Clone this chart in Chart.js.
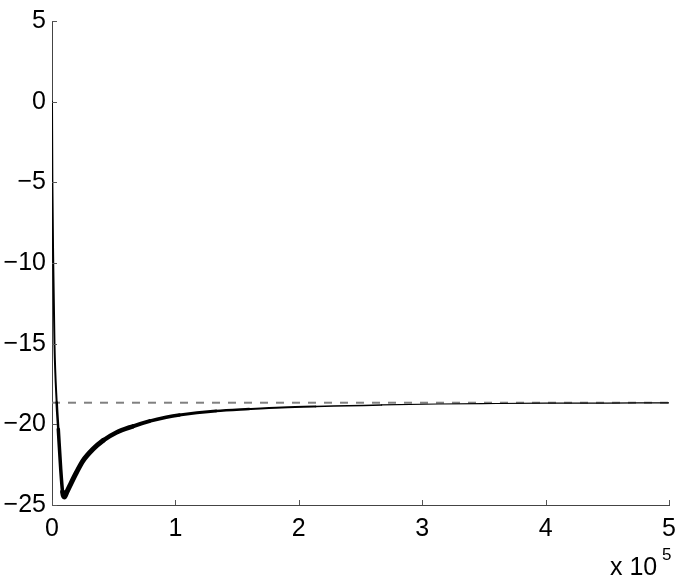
<!DOCTYPE html>
<html>
<head>
<meta charset="utf-8">
<script src="https://cdn.jsdelivr.net/npm/chart.js@4.4.0/dist/chart.umd.min.js"></script>
<style>
  html, body { margin: 0; padding: 0; background: #fff; }
  #wrap { width: 685px; height: 577px; }
</style>
</head>
<body>
<div id="wrap"><canvas id="chart" width="685" height="577"></canvas></div>
<script>
// curve (x in raw units, axis shows x 10^5)
const xValues = [0, 300, 1000, 2000, 3800, 5100, 7000, 8600, 10000, 12000, 14500, 19900, 25200, 33300,
    41400, 52200, 65600, 79000, 92500, 103200, 132800, 159700, 186300, 213500, 240300, 267000,
    313000, 360000, 400000, 450000, 500000];
const yValues = [0, -5, -10, -15, -18.65, -20.3, -22.7, -24.2, -24.5, -24.2, -23.8, -22.97, -22.25, -21.53,
    -21.0, -20.5, -20.12, -19.8, -19.56, -19.42, -19.17, -19.05, -18.95, -18.89, -18.85, -18.8,
    -18.74, -18.71, -18.69, -18.68, -18.67];
const asymptote = -18.66;
const xTicks = [0, 100000, 200000, 300000, 400000, 500000];
const yTicks = [5, 0, -5, -10, -15, -20, -25];

const fontFamily = '"Liberation Sans", Arial, Helvetica, sans-serif';
const minus = s => String(s).replace('-', '\u2212');

// width of the curve grows where the original trace is dense
const widthSteps = [[3000, 2], [6000, 2.5], [9000, 3.5], [45000, 5], [60000, 4.5], [80000, 4],
    [100000, 3.5], [130000, 3], [170000, 2.5], [220000, 2], [280000, 1.5]];
function segWidth(ctx) {
    const x = (ctx.p0.parsed.x + ctx.p1.parsed.x) / 2;
    for (const [lim, w] of widthSteps) {
        if (x < lim) return w;
    }
    return 1.2;
}

const inwardTicks = {
    id: 'inwardTicks',
    afterDraw(chart) {
        const c = chart.ctx;
        const xs = chart.scales.x, ys = chart.scales.y;
        c.save();
        c.strokeStyle = '#555';
        c.lineWidth = 1;
        c.beginPath();
        xs.ticks.forEach(t => {
            const px = Math.round(xs.getPixelForValue(t.value)) + 0.5;
            c.moveTo(px, ys.bottom);
            c.lineTo(px, ys.bottom - 5);
        });
        ys.ticks.forEach(t => {
            const py = Math.round(ys.getPixelForValue(t.value)) + 0.5;
            c.moveTo(xs.left, py);
            c.lineTo(xs.left + 5, py);
        });
        c.stroke();
        // exponent label
        c.fillStyle = '#000';
        c.textBaseline = 'alphabetic';
        c.textAlign = 'left';
        c.font = '25px ' + fontFamily;
        c.fillText('x 10', 610, 575);
        c.font = '17px ' + fontFamily;
        c.fillText('5', 662, 560);
        c.restore();
    }
};

const ctx = document.getElementById('chart').getContext('2d');

new Chart(ctx, {
    type: 'scatter',
    data: {
        datasets: [{
            label: 'curve',
            data: xValues.map((x, i) => ({ x: x, y: yValues[i] })),
            showLine: true,
            borderColor: '#000',
            borderWidth: 2,
            borderCapStyle: 'round',
            borderJoinStyle: 'round',
            pointRadius: 0,
            cubicInterpolationMode: 'monotone',
            segment: { borderWidth: segWidth },
            order: 1
        }, {
            label: 'limit',
            data: [{ x: 0, y: asymptote }, { x: 500000, y: asymptote }],
            showLine: true,
            borderColor: '#808080',
            borderWidth: 2,
            borderDash: [8, 8],
            pointRadius: 0,
            order: 2
        }]
    },
    options: {
        responsive: false,
        animation: false,
        layout: { padding: { top: 20, right: 13, left: 0, bottom: 0 } },
        plugins: { legend: { display: false }, tooltip: { enabled: false } },
        scales: {
            x: {
                type: 'linear',
                min: 0,
                max: 500000,
                afterBuildTicks: s => { s.ticks = xTicks.map(v => ({ value: v })); },
                afterFit: s => { s.height = 72; },
                grid: { display: false, drawTicks: false },
                border: { display: true, color: '#444', width: 1 },
                ticks: {
                    color: '#000',
                    padding: 9,
                    maxRotation: 0,
                    font: { family: fontFamily, size: 25 },
                    callback: v => String(v / 100000)
                }
            },
            y: {
                type: 'linear',
                min: -25,
                max: 5,
                afterBuildTicks: s => { s.ticks = yTicks.map(v => ({ value: v })); },
                afterFit: s => { s.width = 52; },
                grid: { display: false, drawTicks: false },
                border: { display: true, color: '#444', width: 1 },
                ticks: {
                    color: '#000',
                    padding: 6,
                    font: { family: fontFamily, size: 25 },
                    callback: v => minus(v)
                }
            }
        }
    },
    plugins: [inwardTicks]
});
</script>
</body>
</html>
